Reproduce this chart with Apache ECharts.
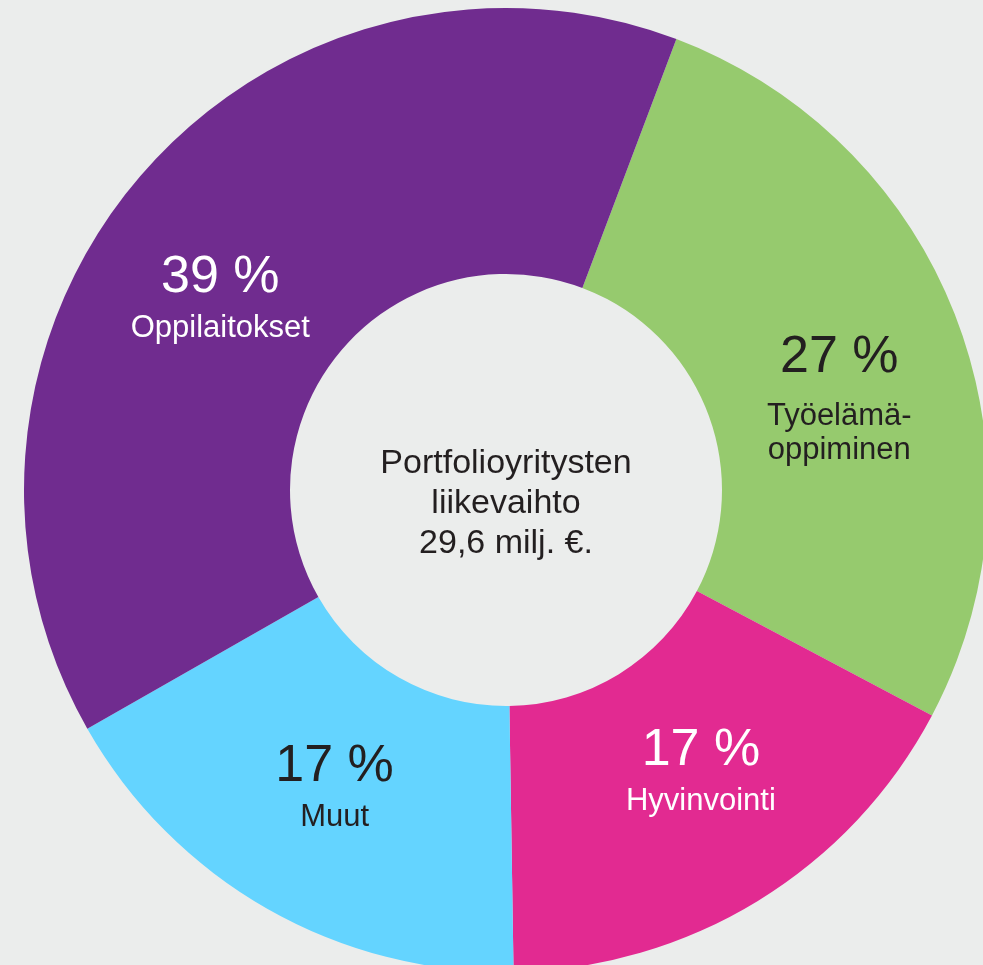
<!DOCTYPE html>
<html><head><meta charset="utf-8">
<script src="https://cdn.jsdelivr.net/npm/echarts@6/dist/echarts.min.js"></script>
<style>html,body{margin:0;padding:0;background:#EBEDEC;} #c{width:983px;height:965px;}</style>
</head><body><div id="c"></div>
<script>
const categories = ['Työelämä-\noppiminen', 'Hyvinvointi', 'Muut', 'Oppilaitokset'];
const values = [27, 17, 17, 39];
const centerText = 'Portfolioyritysten\nliikevaihto\n29,6 milj. €.';

const colors = ['#96CA6E', '#E22A91', '#64D4FF', '#702C8F'];
const labelColors = ['#231F20', '#FFFFFF', '#231F20', '#FFFFFF'];
const labelPadding = [[52, 0, 0, 8], [0, 0, 39, 22], [0, 0, 18, 6], [72, 36, 0, 0]];
const FONT = '"Liberation Sans", Arial, Helvetica, sans-serif';
const CENTER = [506, 490];

const chart = echarts.init(document.getElementById('c'));
chart.setOption({
  backgroundColor: '#EBEDEC',
  animation: false,
  series: [
    {
      type: 'pie',
      center: CENTER,
      radius: [216, 482],
      startAngle: 69.3,
      clockwise: true,
      silent: true,
      emphasis: { disabled: true },
      labelLine: { show: false },
      itemStyle: { borderWidth: 0 },
      label: {
        position: 'inside',
        fontFamily: FONT,
        formatter: function (p) {
          const g = p.dataIndex === 0;
          const lines = p.name.split('\n');
          return '{' + (g ? 'vg' : 'v') + '|' + p.value + ' %}\n' +
            lines.map(function (l) { return '{' + (g ? 'ng' : 'n') + '|' + l + '}'; }).join('\n');
        },
        rich: {
          v: { fontFamily: FONT, fontSize: 52, lineHeight: 62 },
          n: { fontFamily: FONT, fontSize: 31, lineHeight: 40 },
          vg: { fontFamily: FONT, fontSize: 52, lineHeight: 83 },
          ng: { fontFamily: FONT, fontSize: 31, lineHeight: 34 }
        }
      },
      data: values.map(function (v, i) {
        return {
          value: v,
          name: categories[i],
          itemStyle: { color: colors[i] },
          label: { color: labelColors[i], padding: labelPadding[i] }
        };
      })
    },
    {
      type: 'pie',
      center: [CENTER[0], CENTER[1] + 14],
      radius: [0, 200],
      silent: true,
      emphasis: { disabled: true },
      labelLine: { show: false },
      itemStyle: { color: 'rgba(0,0,0,0)' },
      label: {
        position: 'center',
        formatter: centerText,
        fontFamily: FONT,
        fontSize: 34,
        lineHeight: 40,
        color: '#231F20'
      },
      data: [{ value: 1, name: 'center' }]
    }
  ]
});
</script>
</body></html>
